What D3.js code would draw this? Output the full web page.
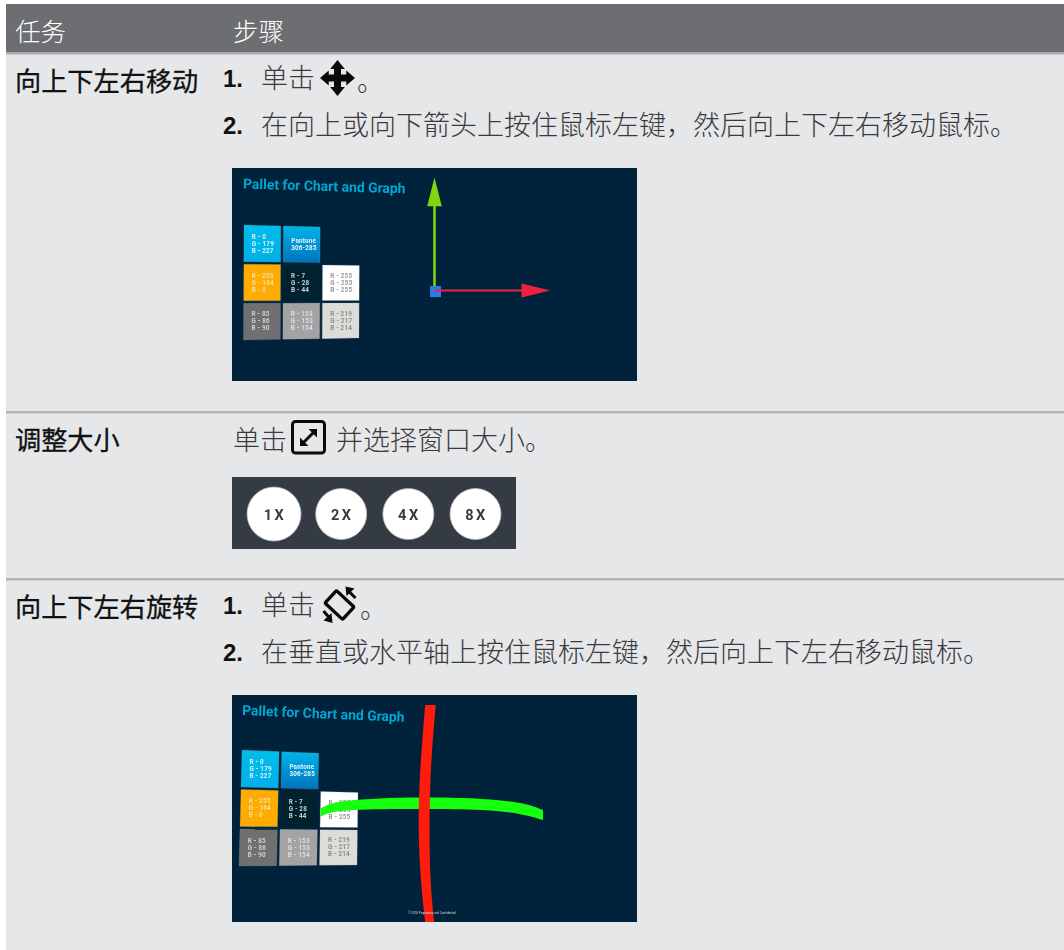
<!DOCTYPE html>
<html>
<head>
<meta charset="utf-8">
<script src="https://cdn.jsdelivr.net/npm/d3@7"></script>
<style>
  html, body { margin: 0; padding: 0; background: #fff; }
  svg { display: block; }
  text { font-family: "Noto Sans CJK SC", sans-serif; }
</style>
</head>
<body>
<div id="chart"></div>
<script>
// Table text
const headers = ["任务", "步骤"];
const tasks = ["向上下左右移动", "调整大小", "向上下左右旋转"];
const stepsMove = ["单击", "。", "在向上或向下箭头上按住鼠标左键，然后向上下左右移动鼠标。"];
const stepsResize = ["单击", "并选择窗口大小。"];
const stepsRotate = ["单击", "。", "在垂直或水平轴上按住鼠标左键，然后向上下左右移动鼠标。"];
const sizes = ["1X", "2X", "4X", "8X"];

// Palette slide content
const slideTitle = "Pallet for Chart and Graph";
const slideFooter = "© 2018 Proprietary and Confidential";
const swatchCols = [0, 1, 0, 1, 2, 0, 1, 2];
const swatchRows = [0, 0, 1, 1, 1, 2, 2, 2];
const swatchFills = ["url(#cyanFill)", "url(#blueFill)", "#ffab00", "#04202f", "#ffffff", "#6f7073", "#a3a3a5", "#dedcd9"];
const swatchInk = ["#d8f2fb", "#e4f6fc", "#f5dfae", "#c9ced1", "#9a9a9a", "#cfcfcf", "#dedede", "#8e8e8c"];
const swatchLabels = [
  ["R - 0", "G - 179", "B - 227"],
  ["Pantone", "306-285"],
  ["R - 255", "G - 164", "B - 0"],
  ["R - 7", "G - 28", "B - 44"],
  ["R - 255", "G - 255", "B - 255"],
  ["R - 85", "G - 86", "B - 90"],
  ["R - 153", "G - 153", "B - 154"],
  ["R - 219", "G - 217", "B - 214"]
];

// Gizmo shapes, percent of the slide
const greenShaft = [[50.0, 58.0], [50.0, 15.0]];
const greenHead = [[48.2, 18.0], [50.0, 4.5], [51.8, 18.0]];
const redShaft = [[50.0, 57.5], [72.5, 57.5]];
const redHead = [[71.5, 54.2], [78.6, 57.5], [71.5, 60.8]];
const hubSquare = [[48.9, 55.4], [51.6, 55.4], [51.6, 60.6], [48.9, 60.6]];
const ringRedLeft = [[47.7, 4.4], [46.6, 30], [46.1, 55], [46.6, 80], [47.7, 100]];
const ringRedRight = [[50.3, 4.4], [49.2, 30], [48.8, 55], [49.0, 80], [49.9, 100]];
const ringGreenX = [21.9, 28.6, 45.9, 61.7, 71.5, 76.8];
const ringGreenTop = [49.9, 46.6, 45.2, 45.8, 47.7, 50.7];
const ringGreenBottom = [53.6, 50.8, 50.2, 50.7, 52.6, 55.1];

// Icon outlines, unit square
const moveArrow = [[.5, 0], [.71, .25], [.6, .25], [.6, .4], [.75, .4], [.75, .29], [1, .5], [.75, .71], [.75, .6], [.6, .6], [.6, .75], [.71, .75], [.5, 1], [.29, .75], [.4, .75], [.4, .6], [.25, .6], [.25, .71], [0, .5], [.25, .29], [.25, .4], [.4, .4], [.4, .25], [.29, .25]];

const width = 1064, height = 950;
const pageBg = "#e6e7e9", slideBg = "#03243a";

const svg = d3.select("#chart").append("svg").attr("width", width).attr("height", height);
const defs = svg.append("defs");

function addGradient(id, top, bottom) {
  const g = defs.append("linearGradient").attr("id", id).attr("x1", 0).attr("x2", 0).attr("y1", 0).attr("y2", 1);
  g.append("stop").attr("offset", "0%").attr("stop-color", top);
  g.append("stop").attr("offset", "100%").attr("stop-color", bottom);
}
addGradient("cyanFill", "#00bdea", "#00b0e6");
addGradient("blueFill", "#00b4ea", "#0072bc");
defs.append("filter").attr("id", "soft").attr("x", "-2%").attr("y", "-2%").attr("width", "104%").attr("height", "104%")
  .append("feGaussianBlur").attr("stdDeviation", 0.6);
defs.append("filter").attr("id", "softer")
  .append("feGaussianBlur").attr("stdDeviation", 0.35);

// Page and header band
svg.append("rect").attr("x", 6).attr("y", 4).attr("width", width - 6).attr("height", height - 4).attr("fill", pageBg);
svg.append("rect").attr("x", 6).attr("y", 4).attr("width", width - 6).attr("height", 48).attr("fill", "#6d6e71");
svg.append("rect").attr("x", 6).attr("y", 52).attr("width", width - 6).attr("height", 2.5).attr("fill", "#a9abae");
[412, 579].forEach(y => {
  svg.append("rect").attr("x", 6).attr("y", y - 1).attr("width", width - 6).attr("height", 2.5).attr("fill", "#b1b3b5");
});

function label(x, y, str, size, color, weight) {
  return svg.append("text").attr("x", x).attr("y", y).attr("font-size", size)
    .attr("fill", color).attr("font-weight", weight || 400).text(str);
}
function taskLabel(y, str) {
  // the source face sits between regular and bold, so thicken regular a little
  label(15, y, str, 26.2, "#111").attr("stroke", "#111").attr("stroke-width", 0.3);
}
function stepNumber(y, str) {
  svg.append("text").attr("x", 223).attr("y", y).attr("font-size", 24).attr("font-weight", 700)
    .style("font-family", "'Liberation Sans', sans-serif").attr("fill", "#111").text(str);
}

const stepSize = 27, stepInk = "#3a3a3c", stepWeight = 300;

label(15, 41, headers[0], 25.5, "#fff", 300);
label(233, 41, headers[1], 25.5, "#fff", 300);

taskLabel(91, tasks[0]);
stepNumber(87, "1.");
label(261, 88, stepsMove[0], stepSize, stepInk, stepWeight);
label(357, 91, stepsMove[1], stepSize, stepInk, stepWeight);
stepNumber(134, "2.");
label(261, 135, stepsMove[2], stepSize, stepInk, stepWeight);

taskLabel(450, tasks[1]);
label(233, 450, stepsResize[0], stepSize, stepInk, stepWeight);
label(336, 450, stepsResize[1], stepSize, stepInk, stepWeight);

taskLabel(617, tasks[2]);
stepNumber(614, "1.");
label(261, 615, stepsRotate[0], stepSize, stepInk, stepWeight);
label(360, 618, stepsRotate[1], stepSize, stepInk, stepWeight);
stepNumber(661, "2.");
label(261, 662, stepsRotate[2], stepSize, stepInk, stepWeight);

// Inline icons
const moveX = d3.scaleLinear([0, 1], [320, 355]), moveY = d3.scaleLinear([0, 1], [60, 96]);
svg.append("path").attr("fill", "#0a0a0a")
  .attr("d", d3.line(d => moveX(d[0]), d => moveY(d[1])).curve(d3.curveLinearClosed)(moveArrow));

const resizeIcon = svg.append("g").attr("transform", "translate(291,420)");
resizeIcon.append("rect").attr("x", 1.5).attr("y", 1.5).attr("width", 32).attr("height", 31.5).attr("rx", 3)
  .attr("fill", "none").attr("stroke", "#0a0a0a").attr("stroke-width", 3);
resizeIcon.append("path").attr("d", "M13 22L22 13").attr("stroke", "#0a0a0a").attr("stroke-width", 3);
resizeIcon.append("path").attr("fill", "#0a0a0a").attr("d", "M17.5 9H26V17.5ZM9 17.5V26H17.5Z");

const rotateIcon = svg.append("g").attr("transform", "translate(339.5,605)");
rotateIcon.append("rect").attr("x", -12).attr("y", -8.5).attr("width", 24).attr("height", 17).attr("rx", 1.5)
  .attr("transform", "rotate(43)").attr("fill", "none").attr("stroke", "#0a0a0a").attr("stroke-width", 3.4);
rotateIcon.append("path").attr("fill", "none").attr("stroke", "#0a0a0a").attr("stroke-width", 3)
  .attr("d", "M10 -13L16 -7M-10 13L-16 6");
rotateIcon.append("path").attr("fill", "#0a0a0a").attr("d", "M6 -18.5L15 -16.5L7 -9ZM-7 18L-16 15.5L-8 8Z");

// Window size buttons
const sizeX = d3.scalePoint().domain(sizes).range([274, 475.5]);
const sizeR = d3.scaleOrdinal().domain(sizes).range([27, 25.5, 25.5, 25.5]);
const sizePanel = svg.append("g").attr("filter", "url(#softer)");
sizePanel.append("rect").attr("x", 232).attr("y", 477).attr("width", 284).attr("height", 72).attr("fill", "#343a43");
sizePanel.selectAll("circle").data(sizes).join("circle")
  .attr("cx", d => sizeX(d)).attr("cy", 514).attr("r", d => sizeR(d)).attr("fill", "#fff")
  .attr("stroke", "#b9bbbd").attr("stroke-width", 0.8);
sizePanel.selectAll("text").data(sizes).join("text")
  .attr("x", d => sizeX(d) + 1).attr("y", 519.5).attr("text-anchor", "middle")
  .attr("font-size", 14.5).attr("font-weight", 700).attr("letter-spacing", 2.5)
  .style("font-family", "Roboto, sans-serif").attr("fill", "#3a3a3a").text(d => d);

// One palette slide, warped a little through its grid corners
function drawSlide(opt) {
  const g = svg.append("g").attr("filter", "url(#soft)");
  const sx = d3.scaleLinear([0, 100], [opt.x, opt.x + opt.w]);
  const sy = d3.scaleLinear([0, 100], [opt.y, opt.y + opt.h]);
  g.append("rect").attr("x", sx(0)).attr("y", sy(0)).attr("width", opt.w).attr("height", opt.h).attr("fill", slideBg);

  g.append("text").attr("x", opt.titleX).attr("y", opt.titleY)
    .attr("transform", `rotate(${opt.titleTilt} ${opt.titleX} ${opt.titleY})`)
    .attr("font-size", 13.9).attr("font-weight", 700).attr("fill", "#02a6d6")
    .style("font-family", "Roboto, sans-serif").text(slideTitle);

  const band = d3.scaleBand().domain([0, 1, 2]).range([0, 1]).paddingInner(0.065);
  const [tl, tr, bl, br] = opt.grid;
  const warp = (u, v) => [
    (tl[0] * (1 - u) + tr[0] * u) * (1 - v) + (bl[0] * (1 - u) + br[0] * u) * v,
    (tl[1] * (1 - u) + tr[1] * u) * (1 - v) + (bl[1] * (1 - u) + br[1] * u) * v
  ];
  swatchLabels.forEach((lines, i) => {
    const u0 = band(swatchCols[i]), u1 = u0 + band.bandwidth();
    const v0 = band(swatchRows[i]), v1 = v0 + band.bandwidth();
    const corners = [warp(u0, v0), warp(u1, v0), warp(u1, v1), warp(u0, v1)];
    g.append("polygon").attr("points", corners.map(c => c.join(",")).join(" "))
      .attr("fill", swatchFills[i]).attr("stroke", "#8fa0ab").attr("stroke-opacity", i === 3 ? 0 : 0.35).attr("stroke-width", 0.6);
    const mid = warp((u0 + u1) / 2, (v0 + v1) / 2);
    const lineStep = 7;
    lines.forEach((line, k) => {
      g.append("text").attr("x", mid[0] - 10.5).attr("y", mid[1] + 2 + (k - (lines.length - 1) / 2) * lineStep)
        .attr("font-size", 6.3).attr("font-weight", 700).attr("fill", swatchInk[i])
        .style("font-family", "Roboto, sans-serif").attr("letter-spacing", 0.2).text(line);
    });
  });
  return { g, sx, sy };
}

const poly = (g, sx, sy, pts, fill) => g.append("polygon")
  .attr("points", pts.map(p => `${sx(p[0])},${sy(p[1])}`).join(" ")).attr("fill", fill);

// Move slide
const s1 = drawSlide({
  x: 232, y: 168, w: 405, h: 213,
  titleX: 243, titleY: 188.5, titleTilt: 1.7,
  grid: [[244, 225], [359.5, 228], [243.5, 340], [359, 338]]
});
const straight = d3.line(d => s1.sx(d[0]), d => s1.sy(d[1]));
s1.g.append("path").attr("d", straight(greenShaft)).attr("stroke", "#7ed60c").attr("stroke-width", 2.6);
poly(s1.g, s1.sx, s1.sy, greenHead, "#7ed60c");
poly(s1.g, s1.sx, s1.sy, hubSquare, "#2a7de6");
s1.g.append("path").attr("d", straight(redShaft)).attr("stroke", "#ee2040").attr("stroke-width", 2.2);
poly(s1.g, s1.sx, s1.sy, redHead, "#ee2040");

// Rotate slide
const s2 = drawSlide({
  x: 232, y: 695, w: 405, h: 227,
  titleX: 242, titleY: 715, titleTilt: 2.4,
  grid: [[242, 750], [358.5, 755], [239, 866], [357, 865]]
});
const ringG = d3.area().x((d, i) => s2.sx(ringGreenX[i])).y0(d => s2.sy(d)).y1((d, i) => s2.sy(ringGreenBottom[i])).curve(d3.curveNatural);
s2.g.append("path").attr("d", ringG(ringGreenTop)).attr("fill", "#14ff0c");
const ringR = d3.area().y(d => s2.sy(d[1])).x0(d => s2.sx(d[0])).x1((d, i) => s2.sx(ringRedRight[i][0])).curve(d3.curveNatural);
s2.g.append("path").attr("d", ringR(ringRedLeft)).attr("fill", "#ff1e10");
s2.g.append("text").attr("x", s2.sx(43.5)).attr("y", s2.sy(96.6)).attr("font-size", 3)
  .attr("fill", "#cfd6da").style("font-family", "Roboto, sans-serif").text(slideFooter);
</script>
</body>
</html>
